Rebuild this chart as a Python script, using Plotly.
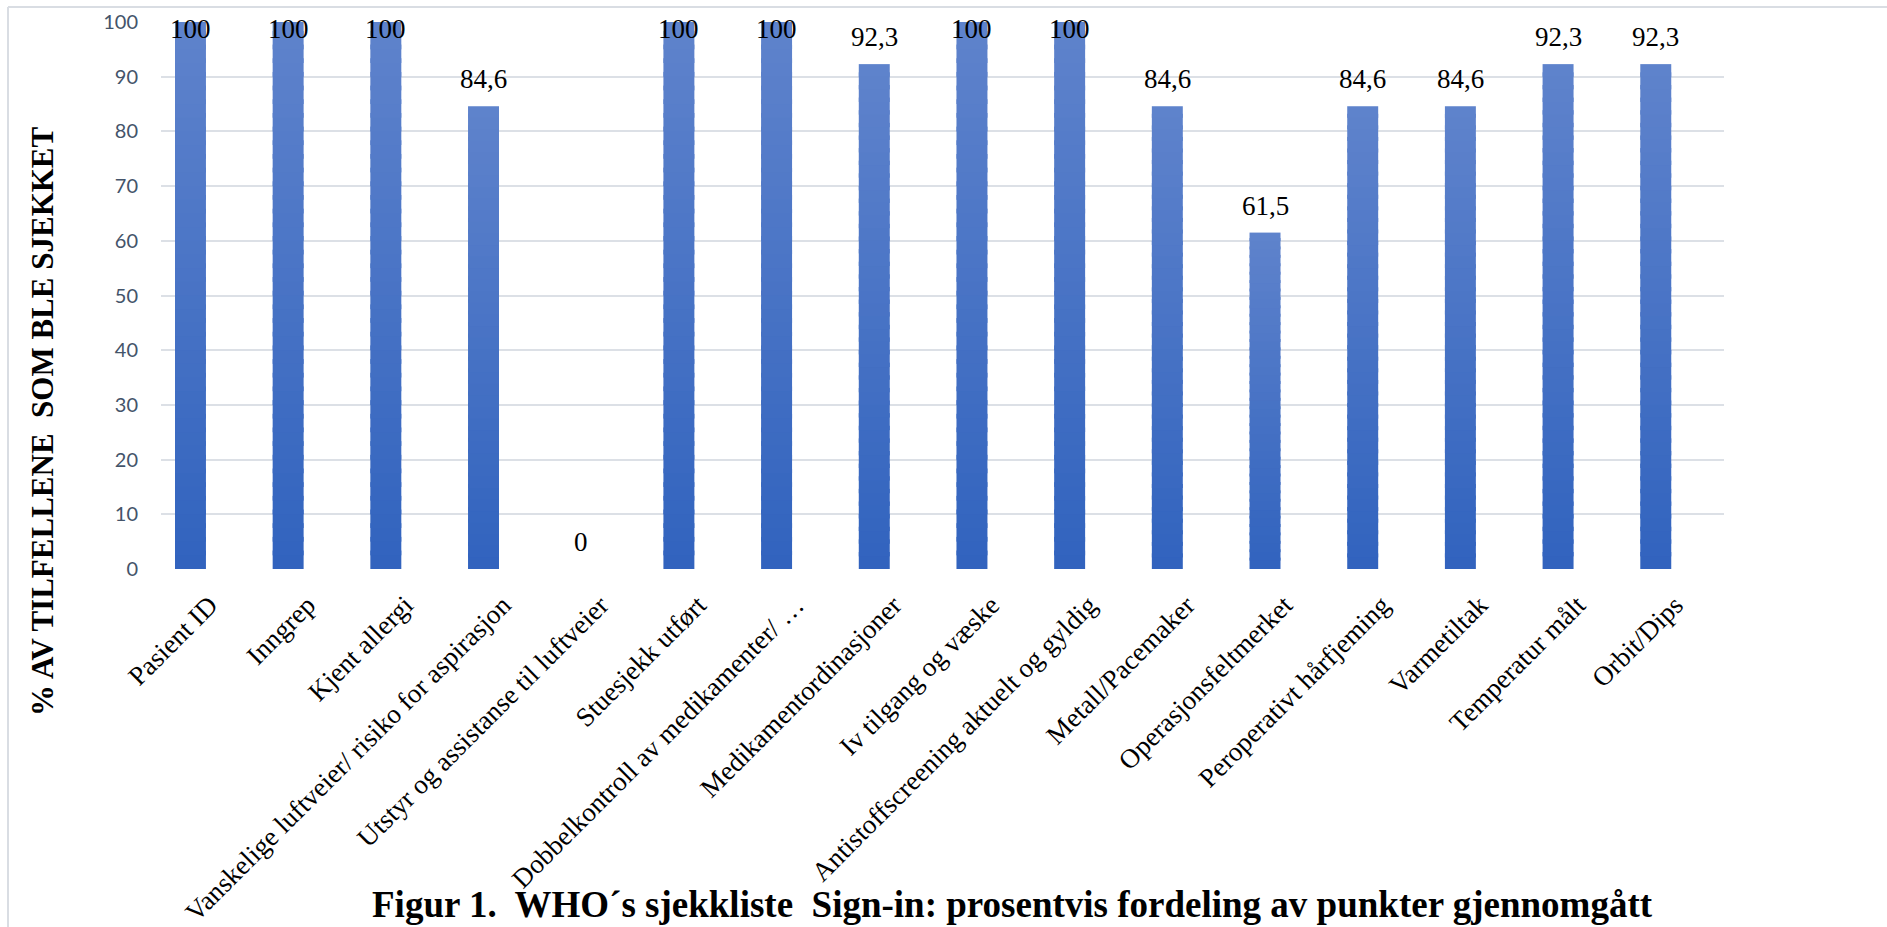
import plotly.graph_objects as go

# WHO sign-in checklist: share of cases where each point was checked
categories = [
    "Pasient ID",
    "Inngrep",
    "Kjent allergi",
    "Vanskelige luftveier/ risiko for aspirasjon",
    "Utstyr og assistanse til luftveier",
    "Stuesjekk utført",
    "Dobbelkontroll av medikamenter/ …",
    "Medikamentordinasjoner",
    "Iv tilgang og væske",
    "Antistoffscreening aktuelt og gyldig",
    "Metall/Pacemaker",
    "Operasjonsfeltmerket",
    "Peroperativt hårfjeming",
    "Varmetiltak",
    "Temperatur målt",
    "Orbit/Dips",
]
values = [100, 100, 100, 84.6, 0, 100, 100, 92.3, 100, 100, 84.6, 61.5, 84.6, 84.6, 92.3, 92.3]
y_ticks = [0, 10, 20, 30, 40, 50, 60, 70, 80, 90, 100]

title_text = "Figur 1.\u00a0 WHO´s sjekkliste\u00a0 Sign-in: prosentvis fordeling av punkter gjennomgått"
y_title_text = "% AV TILFELLENE\u00a0 SOM BLE SJEKKET"

# ---- layout constants -------------------------------------------------------
W, H = 1887, 927
M_L, M_R, M_T, M_B = 161, 163, 22, 358
plot_w = W - M_L - M_R
plot_h = H - M_T - M_B
y_max = 100

BAR_OFFSET = -0.357   # in category units, relative to the category centre
BAR_WIDTH = 0.317
cat_px = plot_w / len(categories)
label_dx = (BAR_OFFSET + BAR_WIDTH / 2) * cat_px

TOP_RGB = (95, 131, 204)
BOTTOM_RGB = (49, 99, 190)
N_STEPS = 40


def mix(t):
    r = [round(b + (a - b) * t) for a, b in zip(TOP_RGB, BOTTOM_RGB)]
    return f"rgb({r[0]},{r[1]},{r[2]})"


fig = go.Figure()

# each bar is filled with a vertical gradient: stacked slices of the same bar
for k in range(N_STEPS):
    frac = 1.0 / N_STEPS
    overlap = 0.0 if k == N_STEPS - 1 else 0.35 * frac
    fig.add_trace(go.Bar(
        x=categories,
        y=[v * (frac + overlap) for v in values],
        base=[v * k * frac for v in values],
        offset=BAR_OFFSET,
        width=BAR_WIDTH,
        marker=dict(color=mix((k + 0.5) / N_STEPS), line=dict(width=0)),
        hoverinfo="skip",
        showlegend=False,
    ))

# value labels above the bars (pushed inside when they would leave the chart)
annotations = []
for cat, v in zip(categories, values):
    text = f"{v:g}".replace(".", ",")
    annotations.append(dict(
        x=cat, y=v, xref="x", yref="y",
        text=text, showarrow=False,
        xanchor="center", yanchor="bottom",
        xshift=label_dx, yshift=10 if v < y_max else -24,
        font=dict(family="Liberation Serif", size=27, color="#000000"),
    ))

# vertical axis title
annotations.append(dict(
    x=(43 - M_L) / plot_w, y=(plot_h + M_T - 421) / plot_h,
    xref="paper", yref="paper",
    text=f"<b>{y_title_text}</b>", showarrow=False, textangle=-90,
    xanchor="center", yanchor="middle",
    font=dict(family="Liberation Serif", size=31, color="#000000"),
))

# figure caption
annotations.append(dict(
    x=(1012 - M_L) / plot_w, y=-(H - M_T - plot_h) / plot_h,
    xref="paper", yref="paper",
    text=f"<b>{title_text}</b>", showarrow=False,
    xanchor="center", yanchor="bottom",
    font=dict(family="Liberation Serif", size=37, color="#000000"),
))

# chart-area frame (top and left edges)
frame_x0 = (8 - M_L) / plot_w
frame_y0 = (plot_h + M_T - 7) / plot_h
shapes = [
    dict(type="line", xref="paper", yref="paper",
         x0=frame_x0, y0=frame_y0, x1=(W - M_L) / plot_w + 0.01, y1=frame_y0,
         line=dict(color="#D9DDE3", width=2)),
    dict(type="line", xref="paper", yref="paper",
         x0=frame_x0, y0=frame_y0, x1=frame_x0, y1=-(H - M_T - plot_h) / plot_h - 0.01,
         line=dict(color="#D9DDE3", width=2)),
]

fig.update_layout(
    width=W, height=H,
    margin=dict(l=M_L, r=M_R, t=M_T, b=M_B, autoexpand=False),
    paper_bgcolor="#FFFFFF", plot_bgcolor="#FFFFFF",
    barmode="overlay",
    annotations=annotations,
    shapes=shapes,
    xaxis=dict(
        type="category",
        categoryorder="array", categoryarray=categories,
        tickangle=-45,
        tickfont=dict(family="Liberation Serif", size=27, color="#000000"),
        showgrid=False, showline=False, zeroline=False,
        ticks="", ticklabelstandoff=14,
    ),
    yaxis=dict(
        range=[0, y_max],
        tickvals=y_ticks,
        tickfont=dict(family="Lato", size=20, color="#44546A"),
        showgrid=True, gridcolor="#DCE0E6", gridwidth=2,
        zeroline=False, showline=False,
        ticks="", ticklabelstandoff=22,
    ),
)

fig.write_html("out.html")
